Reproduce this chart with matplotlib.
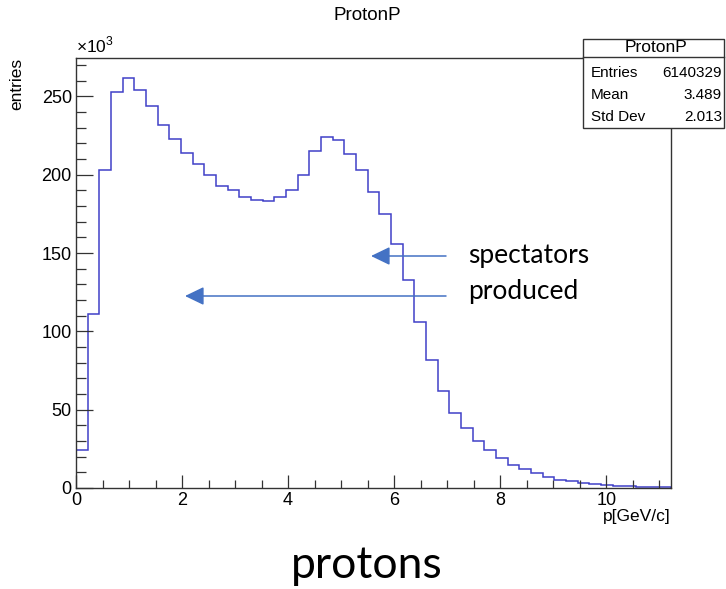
import numpy as np
import matplotlib
matplotlib.use("Agg")
import matplotlib.pyplot as plt
from matplotlib.patches import Rectangle, FancyArrowPatch
from matplotlib.lines import Line2D
from matplotlib.ticker import MultipleLocator

plt.rcParams['font.family'] = ['Liberation Sans', 'DejaVu Sans']
plt.rcParams['mathtext.fontset'] = 'custom'
plt.rcParams['mathtext.rm'] = 'Liberation Sans'

# histogram contents in units of 10^3 entries, 51 bins of 0.22 GeV/c
counts = [24, 111, 203, 253, 262, 254, 244, 232, 223, 214,
          207, 200, 193, 190, 186, 184, 183, 186, 190, 200,
          215, 224, 222, 213, 203, 189, 175, 156, 133, 106,
          82, 62, 48, 38, 30, 24, 19, 15, 12, 9.4,
          6.8, 5.3, 4.3, 3.4, 2.4, 1.7, 1.3, 1.0, 0.5, 0.5, 0.9]
bin_width = 0.22
x_max = 11.22

stats_names = ["Entries", "Mean", "Std Dev"]
stats_values = ["6140329", "3.489", "2.013"]

W, H = 726, 589
fig = plt.figure(figsize=(W / 100, H / 100), dpi=100)

def fx(x):
    return x / W

def fy(y):
    return 1 - y / H

ax = fig.add_axes([fx(76), fy(488), fx(671) - fx(76), fy(58) - fy(488)])
edges = np.arange(len(counts) + 1) * bin_width
ax.stairs(counts, edges, color='#4040c8', lw=1.1)

ax.set_xlim(0, x_max)
ax.set_ylim(0, 274.5)
ax.xaxis.set_major_locator(MultipleLocator(2))
ax.xaxis.set_minor_locator(MultipleLocator(0.5))
ax.yaxis.set_major_locator(MultipleLocator(50))
ax.yaxis.set_minor_locator(MultipleLocator(10))
ax.tick_params(axis='both', which='both', direction='in', labelsize=13, width=0.9, color='#333333')
ax.tick_params(axis='y', which='major', length=12, pad=3)
ax.tick_params(axis='y', which='minor', length=7)
ax.tick_params(axis='x', which='major', length=9.5, pad=3)
ax.tick_params(axis='x', which='minor', length=6)
for s in ax.spines.values():
    s.set_linewidth(1.0)
    s.set_color('#333333')

ax.set_ylabel("entries", fontsize=12.5, loc='top')
ax.yaxis.set_label_coords(-0.087, 1.0)
ax.set_xlabel("p[GeV/c]", fontsize=12.5, loc='right')
ax.xaxis.set_label_coords(1.0, -0.05)
ax.text(0.0, 1.005, r"$\times10^{3}$", transform=ax.transAxes, fontsize=12.5,
        ha='left', va='bottom')

fig.text(fx(367), fy(16), "ProtonP", fontsize=13.5, ha='center', va='center')

# stats box
box = Rectangle((fx(583), fy(128)), fx(724) - fx(583), fy(39) - fy(128),
                transform=fig.transFigure, facecolor='white', edgecolor='#333333',
                lw=1.0, zorder=5)
fig.add_artist(box)
fig.add_artist(Line2D([fx(583), fx(724)], [fy(57), fy(57)], transform=fig.transFigure,
                      color='#333333', lw=1.0, zorder=6))
fig.text(fx(656), fy(48), "ProtonP", fontsize=12.5, ha='center', va='center', zorder=7)
for i, (name, val) in enumerate(zip(stats_names, stats_values)):
    yy = fy(73 + 22 * i)
    fig.text(fx(591), yy, name, fontsize=11, ha='left', va='center', zorder=7)
    fig.text(fx(722), yy, val, fontsize=11, ha='right', va='center', zorder=7)

# annotation arrows
arrow_color = '#4472C4'
for x_tip, y_a in [(371, 256), (185, 296)]:
    arr = FancyArrowPatch((fx(446), fy(y_a)), (fx(x_tip), fy(y_a)),
                          transform=fig.transFigure,
                          arrowstyle='-|>,head_length=0.58,head_width=0.28',
                          mutation_scale=20, color=arrow_color, lw=1.1,
                          shrinkA=0, shrinkB=0, zorder=8)
    fig.add_artist(arr)

fig.text(fx(468), fy(256), "spectators", fontsize=19, family='Lato', ha='left', va='center')
fig.text(fx(468), fy(291), "produced", fontsize=19, family='Lato', ha='left', va='center')
fig.text(fx(367), fy(566), "protons", fontsize=32, family='Lato', ha='center', va='center')

fig.savefig("out.png", dpi=100)
